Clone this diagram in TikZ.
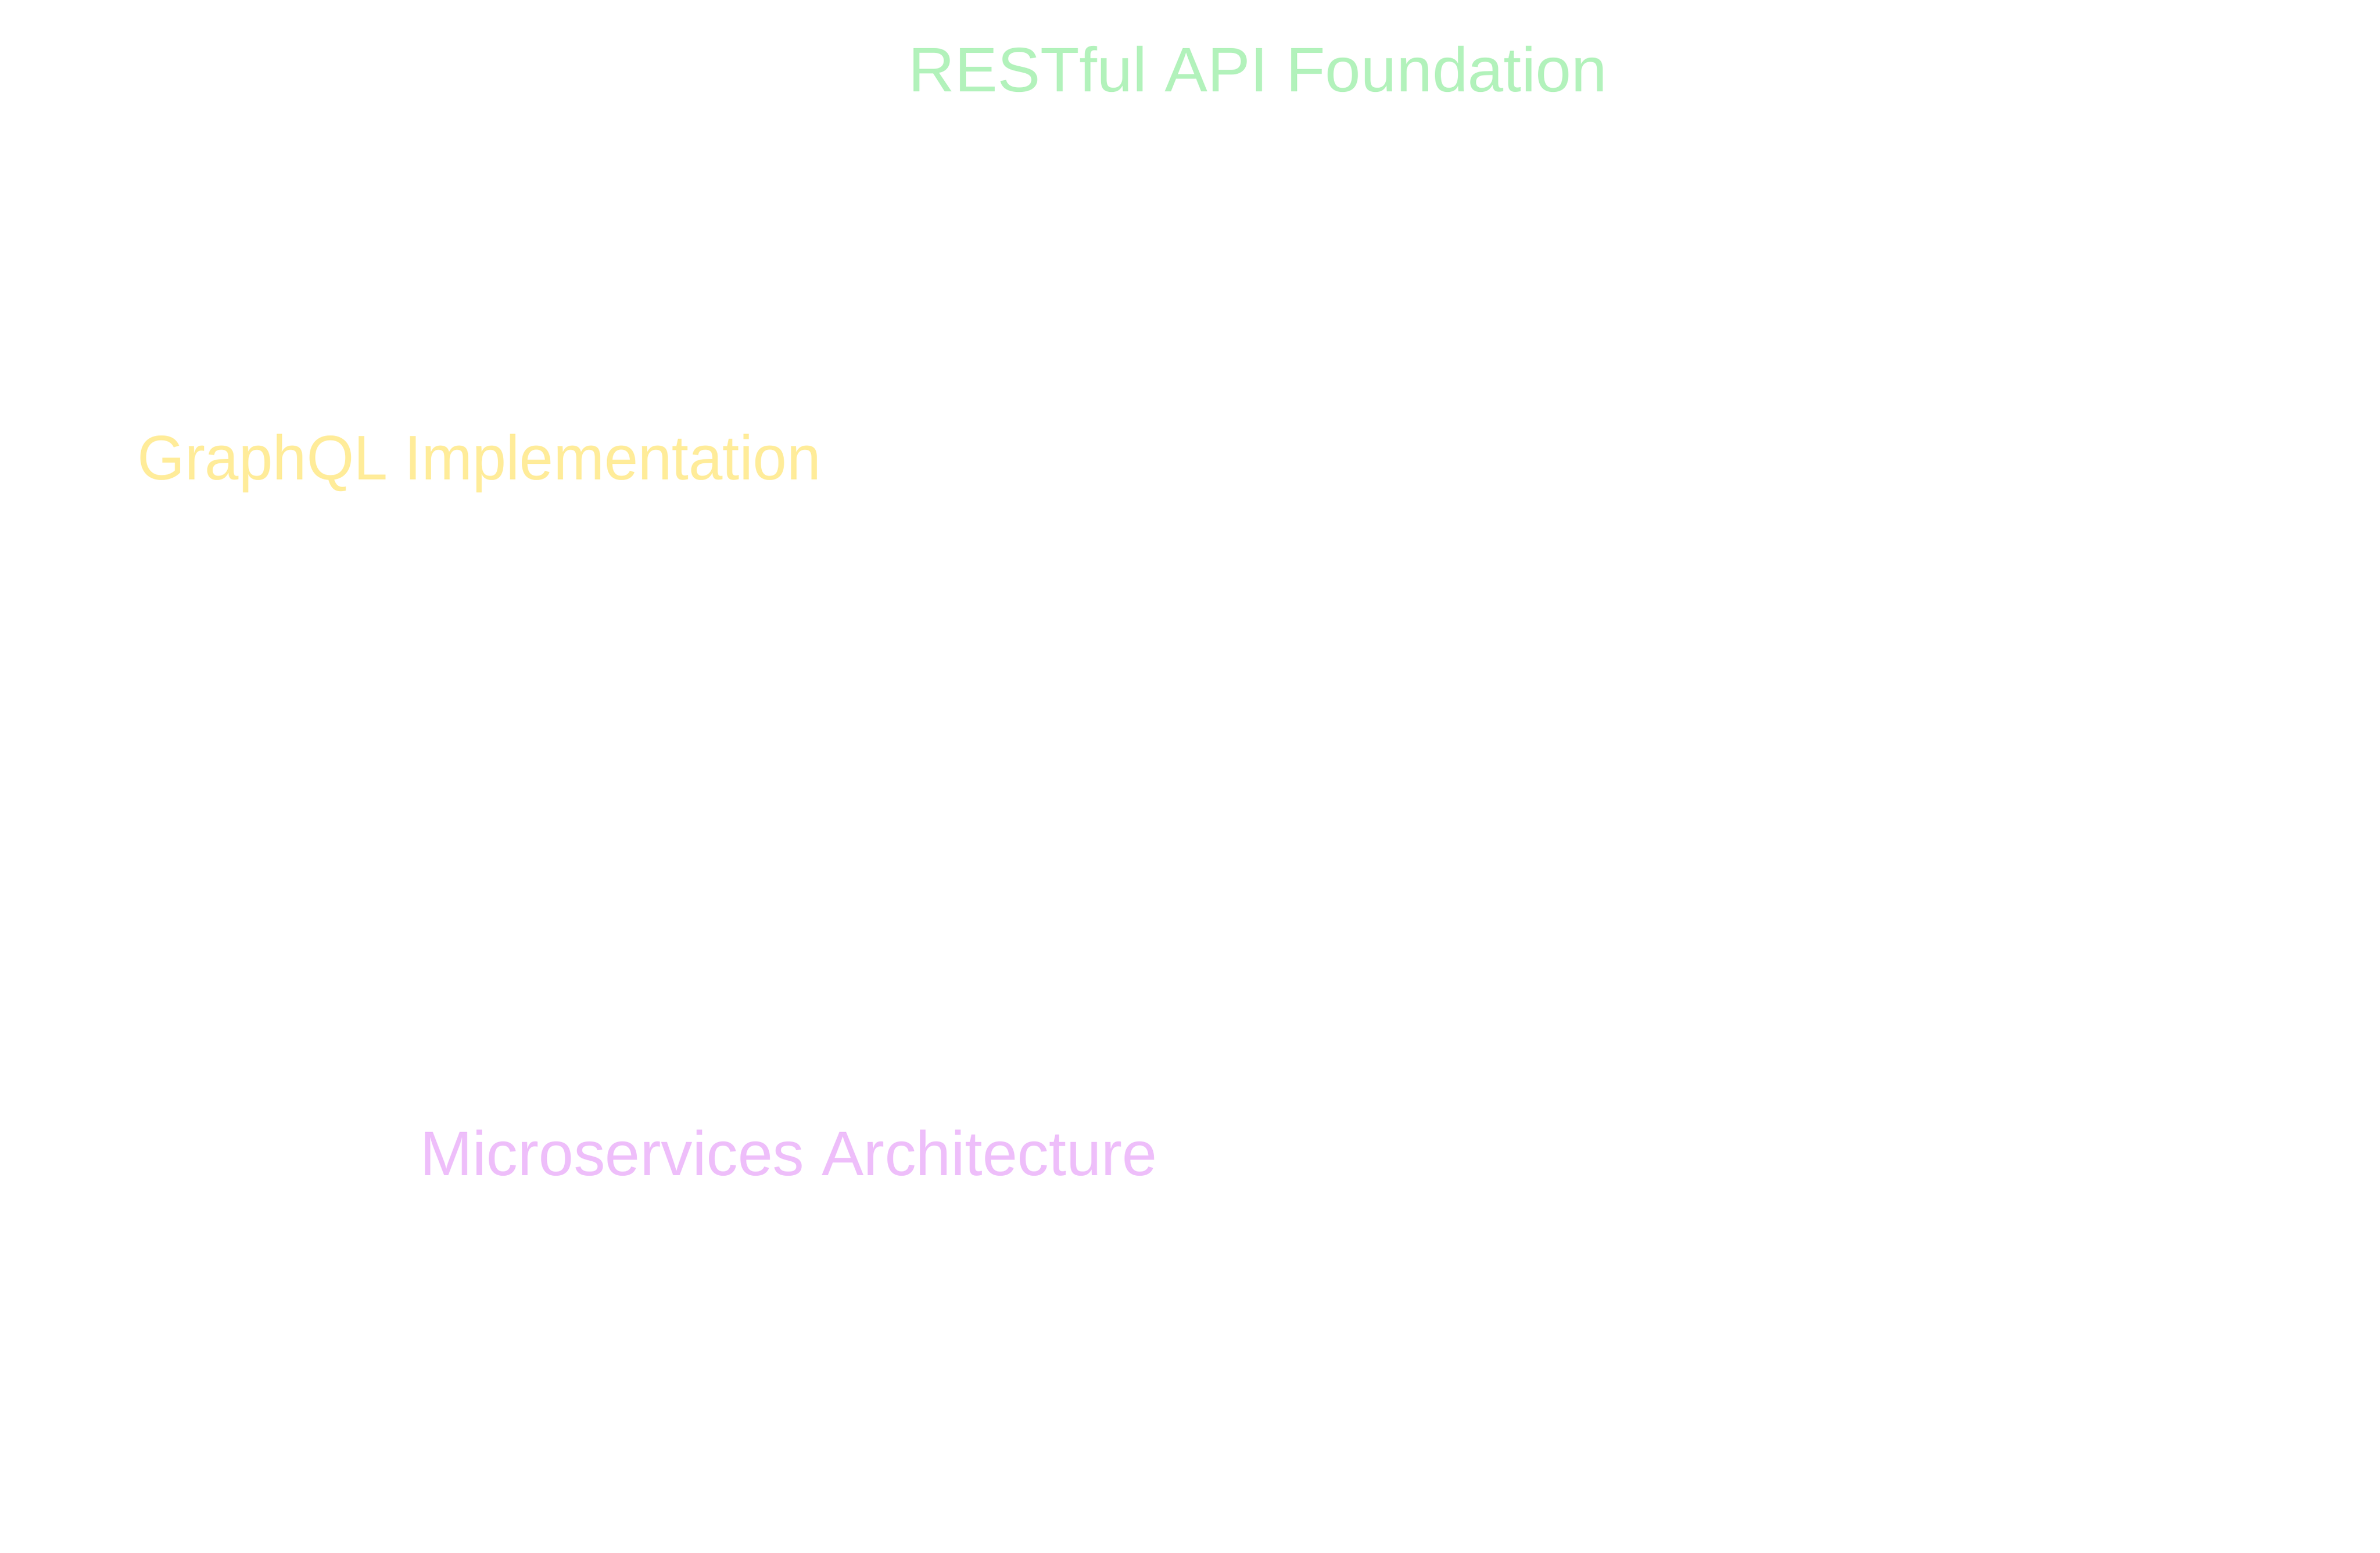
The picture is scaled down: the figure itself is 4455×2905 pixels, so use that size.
\documentclass[tikz,border=0pt]{standalone}
\usepackage{fontspec}
\setmainfont{Liberation Sans}
\definecolor{restgreen}{HTML}{B2F2BB}
\definecolor{gqlyellow}{HTML}{FFEC99}
\definecolor{msviolet}{HTML}{EEBEFA}
\begin{document}
\begin{tikzpicture}[x=0.02cm, y=-0.02cm,
  titletext/.style={anchor=base west, inner sep=0pt, font=\fontsize{67}{80}\selectfont}]
% Set the page size (pixels of the reference)
\useasboundingbox[fill=white] (0, 0) rectangle (4455, 2905);

% Insert the three headings
\node[titletext, text=restgreen] (restTitle) at (1700, 171) {\scalebox{1.02}[1]{RESTful API Foundation}};
\node[titletext, text=gqlyellow] (gqlTitle) at (257, 897) {\scalebox{0.968}[1]{GraphQL Implementation}};
\node[titletext, text=msviolet] (msTitle) at (786, 2199) {Microservices Architecture};
\end{tikzpicture}
\end{document}
